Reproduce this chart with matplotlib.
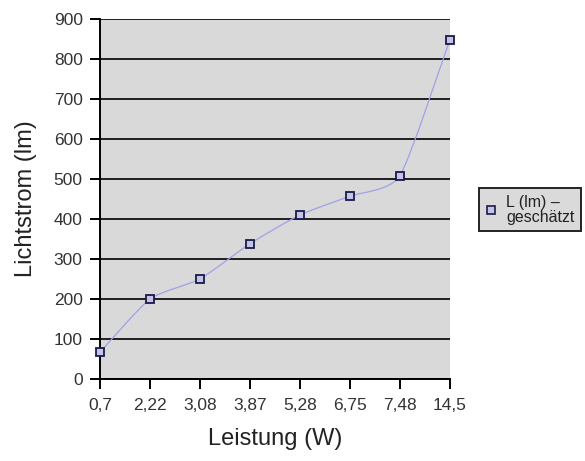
import matplotlib
matplotlib.use('Agg')
import matplotlib.pyplot as plt
import matplotlib.patches as mpatches
from matplotlib.path import Path
from matplotlib.lines import Line2D
import numpy as np

plt.rcParams['font.family'] = ['Liberation Sans', 'DejaVu Sans']

# Daten
leistung = ['0,7', '2,22', '3,08', '3,87', '5,28', '6,75', '7,48', '14,5']
lichtstrom = [67, 200, 250, 338, 410, 457, 508, 848]
y_ticks = [0, 100, 200, 300, 400, 500, 600, 700, 800, 900]

LINE = '#A0A0EA'
MARK_FC = '#C4C4E4'
MARK_EC = '#1A1A4A'
BG = '#D9D9D9'

fig = plt.figure(figsize=(5.85, 4.61), dpi=100)
ax = fig.add_axes([0.171, 0.178, 0.598, 0.781])
ax.set_facecolor(BG)

x = np.arange(len(leistung))
y = np.array(lichtstrom, dtype=float)

# leicht geglättete Linie (Bezier)
verts = [(x[0], y[0])]
codes = [Path.MOVETO]
n = len(x)
k = 1.0 / 10.0
for i in range(n - 1):
    p0 = np.array([x[max(i - 1, 0)], y[max(i - 1, 0)]])
    p1 = np.array([x[i], y[i]])
    p2 = np.array([x[i + 1], y[i + 1]])
    p3 = np.array([x[min(i + 2, n - 1)], y[min(i + 2, n - 1)]])
    c1 = p1 + (p2 - p0) * k
    c2 = p2 - (p3 - p1) * k
    verts += [tuple(c1), tuple(c2), tuple(p2)]
    codes += [Path.CURVE4, Path.CURVE4, Path.CURVE4]
ax.add_patch(mpatches.PathPatch(Path(verts, codes), facecolor='none',
                                edgecolor=LINE, lw=0.9, zorder=3))
ax.plot(x, y, linestyle='none', marker='s', markersize=6,
        markerfacecolor=MARK_FC, markeredgecolor=MARK_EC, markeredgewidth=1.3,
        zorder=4, clip_on=False)

ax.set_xlim(0, n - 1)
ax.set_ylim(0, 900)
ax.set_yticks(y_ticks)
ax.set_xticks(x)
ax.set_xticklabels(leistung)
ax.yaxis.grid(True, color='#1E1E1E', lw=1.4)
ax.set_axisbelow(True)
for s in ['top', 'right']:
    ax.spines[s].set_visible(False)
ax.spines['left'].set_linewidth(1.4)
ax.spines['bottom'].set_linewidth(1.4)
ax.tick_params(direction='out', length=7.5, width=1.4, labelsize=12.5,
               colors='black', labelcolor='#333333', pad=5)
ax.tick_params(axis='x', pad=6)

ax.set_xlabel('Leistung (W)', fontsize=17, labelpad=11, color='#222222')
ax.set_ylabel('Lichtstrom (lm)', fontsize=17, labelpad=12, color='#222222')

h = Line2D([], [], linestyle='none', marker='s', markersize=5.5,
           markerfacecolor=MARK_FC, markeredgecolor=MARK_EC, markeredgewidth=1.2)
leg = fig.legend([h], ['L (lm) –\ngeschätzt'], loc='center left',
                 bbox_to_anchor=(0.805, 0.545), frameon=True, fancybox=False,
                 fontsize=11.5, handlelength=0.7, handletextpad=0.6, borderpad=0.4,
                 labelspacing=0.2)
for t in leg.get_texts():
    t.set_linespacing(1.0)
    t.set_color('#222222')
leg.get_frame().set_edgecolor('#222222')
leg.get_frame().set_linewidth(1.4)
leg.get_frame().set_facecolor('#DADADA')
leg.get_frame().set_alpha(1)

fig.savefig('out.png', dpi=100, facecolor='white')
